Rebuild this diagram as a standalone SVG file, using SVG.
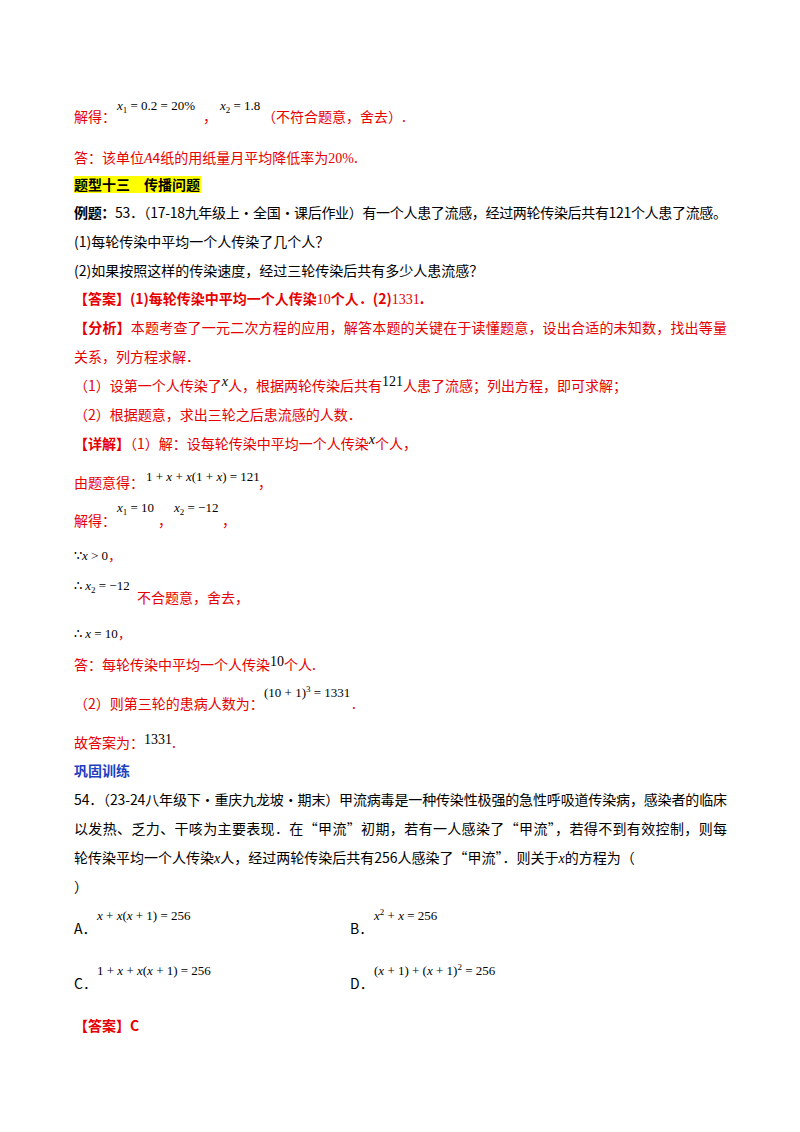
<svg xmlns="http://www.w3.org/2000/svg" width="800" height="1132" viewBox="0 0 800 1132">
<style>
text{font-family:"Noto Sans CJK SC","Liberation Serif",serif;font-size:14px;fill:#000}
.r{fill:#e60000}
.b{font-weight:bold}
.m{font-family:"Liberation Serif",serif;font-size:13px;fill:#000}
.mi{font-family:"Liberation Serif",serif;font-size:13px;font-style:italic}
.s{font-size:9px}
.bl{fill:#1f3fbf;font-weight:bold}
</style>
<rect width="800" height="1132" fill="#fff"/>
<text x="74" y="122" class="r">解得：</text>
<text x="117" y="110" class="m"><tspan class="mi">x</tspan><tspan class="s" dy="3">1</tspan><tspan dy="-3"> = 0.2 = 20%</tspan></text>
<text x="203" y="122" class="r">，</text>
<text x="220" y="110" class="m"><tspan class="mi">x</tspan><tspan class="s" dy="3">2</tspan><tspan dy="-3"> = 1.8</tspan></text>
<text x="262" y="122" class="r">（不符合题意，舍去）.</text>
<text x="74" y="163" class="r">答：该单位<tspan font-family="Liberation Serif" font-style="italic">A</tspan>4纸的用纸量月平均降低率为<tspan font-family="Liberation Serif">20%</tspan>.</text>
<rect x="74" y="176" width="127" height="17" fill="#ffff00"/>
<text x="74" y="190" class="b">题型十三　传播问题</text>
<text x="74" y="218" textLength="653"><tspan class="b">例题：</tspan>53．（17-18九年级上·全国·课后作业）有一个人患了流感，经过两轮传染后共有121个人患了流感。</text>
<text x="74" y="247">(1)每轮传染中平均一个人传染了几个人？</text>
<text x="74" y="276">(2)如果按照这样的传染速度，经过三轮传染后共有多少人患流感？</text>
<text x="74" y="304" class="r b">【答案】(1)每轮传染中平均一个人传染<tspan font-family="Liberation Serif" font-weight="normal">10</tspan>个人．(2)<tspan font-family="Liberation Serif" font-weight="normal">1331</tspan>.</text>
<text x="74" y="333" class="r" textLength="653"><tspan class="b">【分析】</tspan>本题考查了一元二次方程的应用，解答本题的关键在于读懂题意，设出合适的未知数，找出等量</text>
<text x="74" y="362" class="r">关系，列方程求解．</text>
<text x="74" y="391" class="r">（1）设第一个人传染了<tspan font-family="Liberation Serif" font-style="italic" fill="#000" dy="-5">x</tspan><tspan dy="5">人，根据两轮传染后共有</tspan><tspan font-family="Liberation Serif" fill="#000" dy="-5">121</tspan><tspan dy="5">人患了流感；列出方程，即可求解；</tspan></text>
<text x="74" y="420" class="r">（2）根据题意，求出三轮之后患流感的人数．</text>
<text x="74" y="449" class="r"><tspan class="b">【详解】</tspan>（1）解：设每轮传染中平均一个人传染<tspan font-family="Liberation Serif" font-style="italic" fill="#000" dy="-5">x</tspan><tspan dy="5">个人，</tspan></text>
<text x="74" y="488" class="r">由题意得：</text>
<text x="146" y="481" class="m">1 + <tspan class="mi">x</tspan> + <tspan class="mi">x</tspan>(1 + <tspan class="mi">x</tspan>) = 121</text>
<text x="258" y="488" class="r">，</text>
<text x="74" y="526" class="r">解得：</text>
<text x="117" y="512" class="m"><tspan class="mi">x</tspan><tspan class="s" dy="3">1</tspan><tspan dy="-3"> = 10</tspan></text>
<text x="158" y="526" class="r">，</text>
<text x="174" y="512" class="m"><tspan class="mi">x</tspan><tspan class="s" dy="3">2</tspan><tspan dy="-3"> = −12</tspan></text>
<text x="222" y="526" class="r">，</text>
<text x="74" y="560" class="m">∵<tspan class="mi">x</tspan> &gt; 0<tspan fill="#e60000" font-family="Noto Sans CJK SC">，</tspan></text>
<text x="74" y="590" class="m">∴ <tspan class="mi">x</tspan><tspan class="s" dy="3">2</tspan><tspan dy="-3"> = −12</tspan></text>
<text x="137" y="603" class="r">不合题意，舍去，</text>
<text x="74" y="638" class="m">∴ <tspan class="mi">x</tspan> = 10<tspan fill="#e60000" font-family="Noto Sans CJK SC">，</tspan></text>
<text x="74" y="670" class="r">答：每轮传染中平均一个人传染<tspan font-family="Liberation Serif" fill="#000" dy="-4">10</tspan><tspan dy="4">个人.</tspan></text>
<text x="74" y="709" class="r">（2）则第三轮的患病人数为：</text>
<text x="264" y="697" class="m">(10 + 1)<tspan class="s" dy="-5">3</tspan><tspan dy="5"> = 1331</tspan></text>
<text x="352" y="709" class="r">.</text>
<text x="74" y="748" class="r">故答案为：<tspan font-family="Liberation Serif" fill="#000" dy="-4">1331</tspan><tspan dy="4">.</tspan></text>
<text x="74" y="776" class="bl">巩固训练</text>
<text x="74" y="805" textLength="653">54．（23-24八年级下·重庆九龙坡·期末）甲流病毒是一种传染性极强的急性呼吸道传染病，感染者的临床</text>
<text x="74" y="834" textLength="653">以发热、乏力、干咳为主要表现．在“甲流”初期，若有一人感染了“甲流”，若得不到有效控制，则每</text>
<text x="74" y="863">轮传染平均一个人传染<tspan font-family="Liberation Serif" font-style="italic">x</tspan>人，经过两轮传染后共有256人感染了“甲流”．则关于<tspan font-family="Liberation Serif" font-style="italic">x</tspan>的方程为（</text>
<text x="74" y="892">）</text>
<text x="74" y="934">A．</text>
<text x="97" y="920" class="m"><tspan class="mi">x</tspan> + <tspan class="mi">x</tspan>(<tspan class="mi">x</tspan> + 1) = 256</text>
<text x="350" y="934">B．</text>
<text x="374" y="920" class="m"><tspan class="mi">x</tspan><tspan class="s" dy="-5">2</tspan><tspan dy="5"> + </tspan><tspan class="mi">x</tspan> = 256</text>
<text x="74" y="989">C．</text>
<text x="97" y="975" class="m">1 + <tspan class="mi">x</tspan> + <tspan class="mi">x</tspan>(<tspan class="mi">x</tspan> + 1) = 256</text>
<text x="350" y="989">D．</text>
<text x="374" y="975" class="m">(<tspan class="mi">x</tspan> + 1) + (<tspan class="mi">x</tspan> + 1)<tspan class="s" dy="-5">2</tspan><tspan dy="5"> = 256</tspan></text>
<text x="74" y="1031" class="r b">【答案】C</text>
</svg>
